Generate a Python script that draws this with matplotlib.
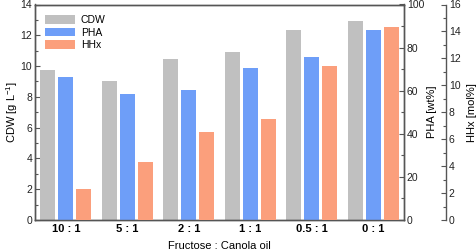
import matplotlib
matplotlib.use("Agg")
import matplotlib.pyplot as plt
import numpy as np
from matplotlib.ticker import MultipleLocator

plt.rcParams['font.family'] = ['Liberation Sans', 'DejaVu Sans']
plt.rcParams['mathtext.default'] = 'regular'

categories = ['10 : 1', '5 : 1', '2 : 1', '1 : 1', '0.5 : 1', '0 : 1']
cdw = [9.72, 9.0, 10.46, 10.94, 12.33, 12.93]          # g/L
pha = [66.4, 58.4, 60.4, 70.4, 75.6, 88.0]             # wt%
hhx = [2.28, 4.3, 6.5, 7.5, 11.4, 14.3]                # mol%

c_cdw = '#c0c0c0'
c_pha = '#6e9ef8'
c_hhx = '#fb9f7c'
spc = '#555555'

fig = plt.figure(figsize=(4.77, 2.5), dpi=100)
ax = fig.add_axes([35/477, 30/250, 369/477, 215.5/250])
ax2 = ax.twinx()
ax3 = ax.twinx()
ax3.spines['right'].set_position(('axes', 1 + 42/369))

x = np.arange(len(categories))
w = 0.245
off = 0.29
b1 = ax.bar(x - off, cdw, w, color=c_cdw, label='CDW', zorder=2)
b2 = ax2.bar(x, pha, w, color=c_pha, label='PHA', zorder=2)
b3 = ax3.bar(x + off, hhx, w, color=c_hhx, label='HHx', zorder=2)

ax.set_xlim(-0.5, 5.5)
ax.set_ylim(0, 14)
ax2.set_ylim(0, 100)
ax3.set_ylim(0, 16)

ax.yaxis.set_major_locator(MultipleLocator(2))
ax.yaxis.set_minor_locator(MultipleLocator(1))
ax2.yaxis.set_major_locator(MultipleLocator(20))
ax2.yaxis.set_minor_locator(MultipleLocator(10))
ax3.yaxis.set_major_locator(MultipleLocator(2))
ax3.yaxis.set_minor_locator(MultipleLocator(1))

ax.set_xticks(x)
ax.set_xticklabels(categories, fontweight='bold', fontsize=8)
ax.tick_params(axis='x', length=0, pad=3)

for a in (ax, ax2, ax3):
    a.tick_params(axis='y', which='major', direction='in', length=3.5, width=0.8,
                  colors=spc, labelcolor='#222222', labelsize=7.5, pad=2)
    a.tick_params(axis='y', which='minor', direction='in', length=2, width=0.8, colors=spc)
    for s in a.spines.values():
        s.set_color(spc)
        s.set_linewidth(1.0)

ax3.spines['top'].set_visible(False)
ax3.spines['left'].set_visible(False)
ax3.spines['bottom'].set_visible(False)

ax.set_ylabel('CDW [g L$^{-1}$]', fontsize=8)
ax.yaxis.set_label_coords(-0.04, 0.5)
ax2.set_ylabel('PHA [wt%]', fontsize=8, labelpad=2)
ax3.set_ylabel('HHx [mol%]', fontsize=8, labelpad=5)
ax.set_xlabel('Fructose : Canola oil', fontsize=8, labelpad=5)

ax3.legend(handles=[b1, b2, b3], loc='upper left', frameon=False, fontsize=7.5,
           handlelength=2.8, handleheight=0.9, borderaxespad=0.6, labelspacing=0.25,
           handletextpad=0.6)

fig.savefig('out.png', dpi=100)
